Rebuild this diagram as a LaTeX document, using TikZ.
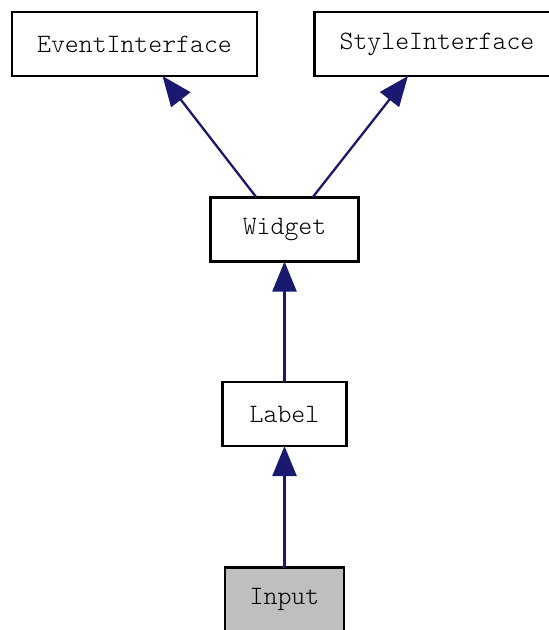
\documentclass[tikz,border=0pt]{standalone}
\usepackage{fontspec}
\setmonofont{lmmonolt10-regular.otf}
\usetikzlibrary{arrows.meta,calc}
\definecolor{edgeblue}{RGB}{25,25,112}
\definecolor{boxgray}{RGB}{191,191,191}
\begin{document}
\begin{tikzpicture}[x=1pt,y=-1pt,
  classbox/.style={draw=black, line width=2.9pt, rectangle, inner sep=0pt, outer sep=0pt,
    minimum height=64pt, font=\ttfamily\fontsize{26.5}{28}\selectfont, fill=white},
  inherit/.style={draw=edgeblue, line width=2.3pt,
    -{Triangle[length=30pt,width=24pt]}, color=edgeblue}]
  \useasboundingbox[fill=white] (0,0) rectangle (549,630);
  \begin{scope}
    \clip (0,0) rectangle (549,630);
    \node[classbox, minimum width=245pt] (ei) at (134.5,44) {EventInterface};
    \node[classbox, minimum width=245pt] (si) at (437,44) {StyleInterface};
    \node[classbox, minimum width=148pt] (widget) at (284.5,229.5) {Widget};
    \node[classbox, minimum width=124pt] (label) at (284.5,414) {Label};
    \node[classbox, minimum width=119pt, fill=boxgray] (input) at (284.5,599.5) {Input};
    % inheritance arrows point from the derived class to its base
    \draw[inherit] ($(widget.north)+(-28,0)$) -- ($(ei.south)+(28,0)$);
    \draw[inherit] ($(widget.north)+(28,0)$) -- ($(si.south)+(-29,0)$);
    \draw[inherit] (label.north) -- (widget.south);
    \draw[inherit] (input.north) -- (label.south);
  \end{scope}
\end{tikzpicture}
\end{document}
